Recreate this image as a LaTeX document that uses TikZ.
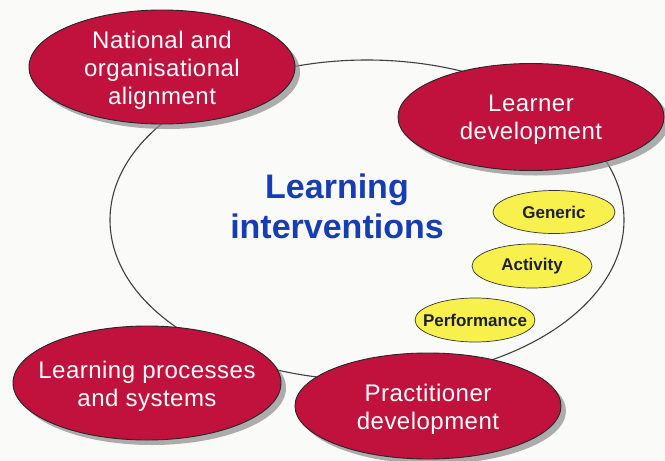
\documentclass[tikz,border=0pt]{standalone}
\usepackage{fontspec}
\setmainfont{Liberation Sans}
\usetikzlibrary{shapes.geometric,shadows}
\definecolor{crimson}{RGB}{192,18,60}
\definecolor{titleblue}{RGB}{22,62,178}
\definecolor{pale}{RGB}{248,240,76}
\definecolor{bg}{RGB}{250,250,248}
\definecolor{darkink}{RGB}{30,32,48}
\tikzset{
  bigoval/.style={ellipse, draw=black!85, line width=0.9pt, fill=crimson,
    inner sep=0pt,
    drop shadow={shadow xshift=5pt, shadow yshift=-5pt, fill=black!45, opacity=0.7}},
  bigtext/.style={text=white, align=center, yshift=-3pt,
    font=\fontsize{24}{28}\selectfont\addfontfeature{LetterSpace=2}},
  smalloval/.style={ellipse, draw=black!80, line width=0.7pt, fill=pale, inner sep=0pt},
  smalltext/.style={text=darkink, font=\fontsize{17}{20}\selectfont\bfseries},
  loopline/.style={draw=black!75, line width=1.1pt}
}
\begin{document}
\begin{tikzpicture}[x=1pt,y=-1pt]
\fill[bg] (0,0) rectangle (665,461);
\useasboundingbox (0,0) rectangle (665,461);
% central loop
\draw[loopline] (367,220) ellipse [x radius=257, y radius=160];
% red ovals
\node[bigoval, minimum width=266pt, minimum height=114pt,
  label={[bigtext]center:National and\\organisational\\alignment}] (nat) at (162,67) {};
\node[bigoval, minimum width=266pt, minimum height=107pt,
  label={[bigtext]center:Learner\\development}] (lrn) at (531,117) {};
\node[bigoval, minimum width=268pt, minimum height=114pt,
  label={[bigtext]center:Learning processes\\and systems}] (lps) at (147,383) {};
\node[bigoval, minimum width=266pt, minimum height=106pt,
  label={[bigtext]center:Practitioner\\development}] (prc) at (428,406) {};
% title
\node[text=titleblue, align=center, font=\fontsize{34}{40}\selectfont\bfseries] (title) at (337,206)
  {Learning\\interventions};
% yellow ovals
\node[smalloval, minimum width=122pt, minimum height=43pt,
  label={[smalltext]center:Generic}] (gen) at (554,212) {};
\node[smalloval, minimum width=120pt, minimum height=44pt,
  label={[smalltext]center:Activity}] (act) at (532,266) {};
\node[smalloval, minimum width=120pt, minimum height=44pt,
  label={[smalltext]center:Performance}] (per) at (475,320) {};
\end{tikzpicture}
\end{document}
